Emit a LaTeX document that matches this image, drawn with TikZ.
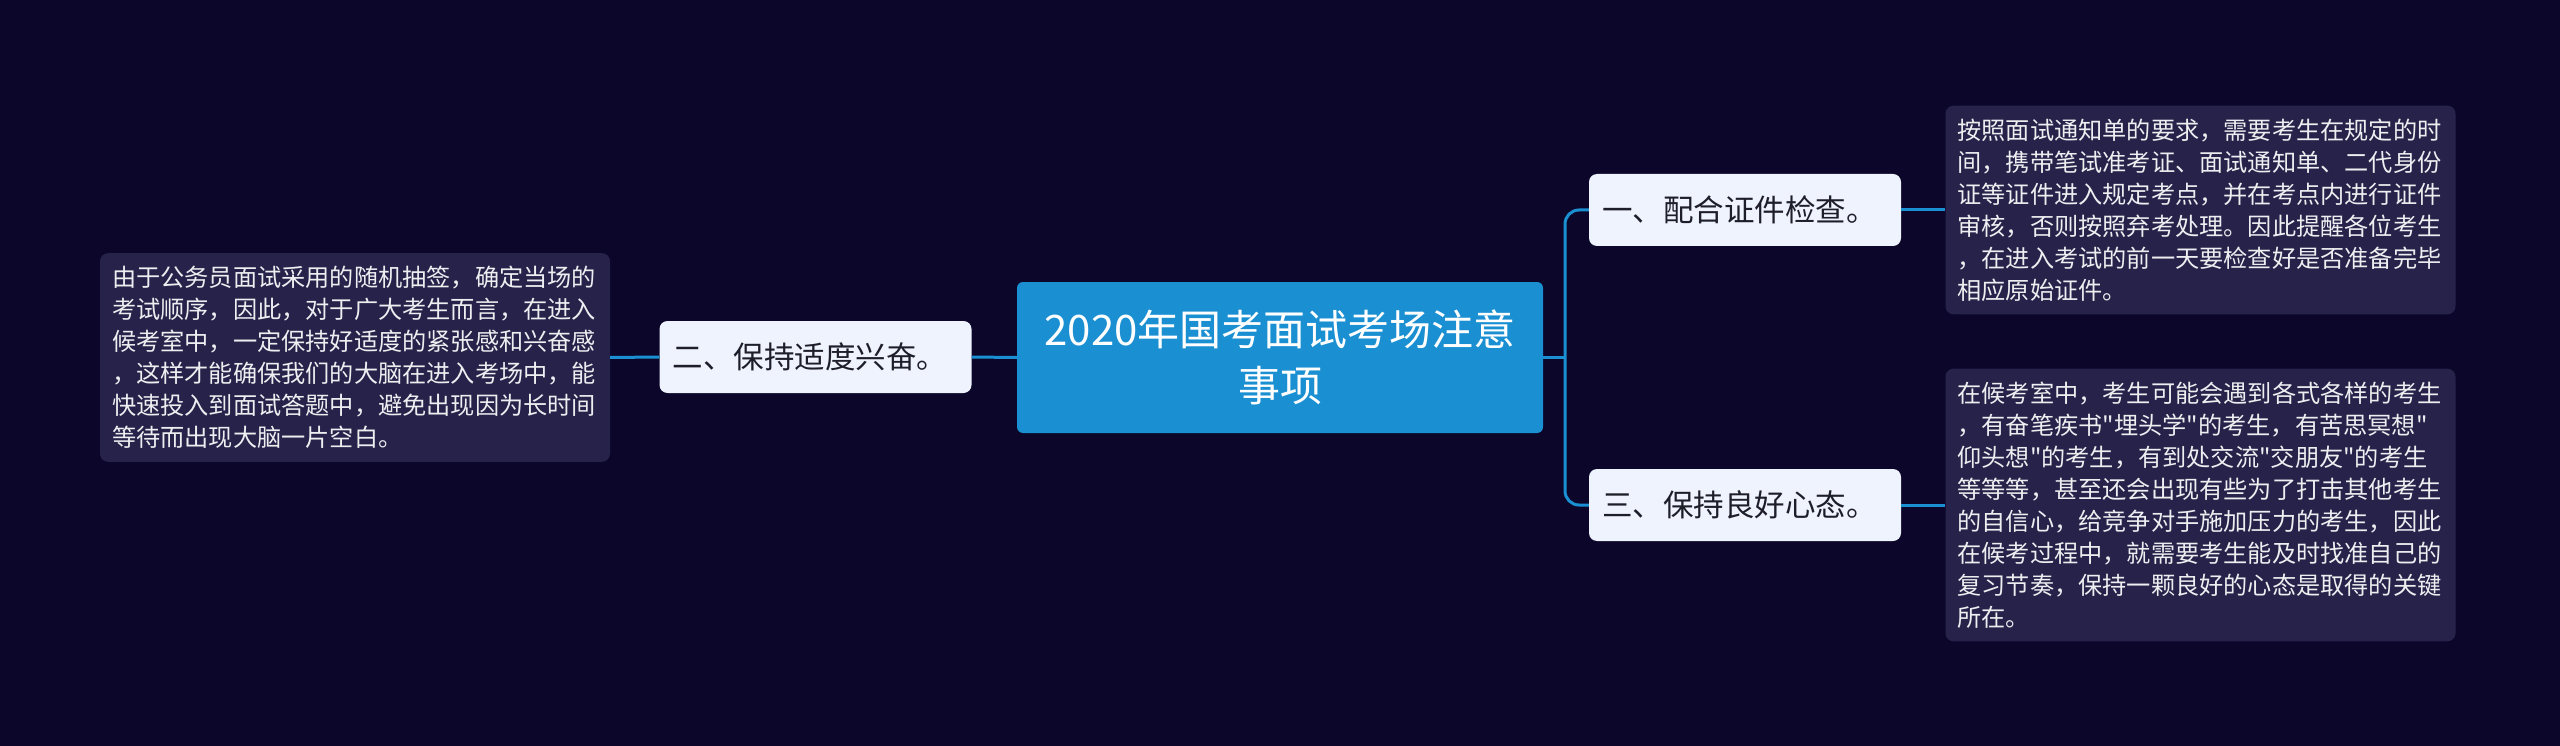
\documentclass[tikz,border=0pt]{standalone}
\usepackage{fontspec}
\setmainfont{Noto Sans CJK SC}[Ligatures=TeXOff]
\usetikzlibrary{positioning}
\definecolor{NightBg}{RGB}{11,6,42}
\definecolor{TopicBlue}{RGB}{26,143,210}
\definecolor{NotePurple}{RGB}{38,34,74}
\definecolor{SubWhite}{RGB}{238,243,253}
\definecolor{SubText}{RGB}{30,30,40}

\begin{document}
\begin{tikzpicture}[x=1pt, y=-1pt,
  topicbox/.style={rectangle, rounded corners=6pt, fill=TopicBlue, text=white, align=center,
    minimum width=526pt, minimum height=151pt, font=\fontsize{42}{56}\selectfont},
  subbox/.style={rectangle, rounded corners=8pt, fill=SubWhite, text=SubText, text width=286pt,
    align=left, inner xsep=13pt, minimum height=72pt, font=\fontsize{30.5}{34}\selectfont},
  notebox/.style={rectangle, rounded corners=8pt, fill=NotePurple, text=white!92!NotePurple,
    text width=486pt, align=left, inner xsep=12pt, inner ysep=13pt, font=\fontsize{24.2}{32}\selectfont},
  link/.style={TopicBlue, line width=3pt}]
  % Background
  \fill[NightBg] (0,0) rectangle (2560,746);

  % Main topic
  \node[topicbox] (topic) at (1280,357.5) {2020年国考面试考场注意\\事项};

  % Sub topics
  \node[subbox] (sub1) at (1745,210) {一、配合证件检查。};
  \node[subbox] (sub2) at (815.5,357) {二、保持适度兴奋。};
  \node[subbox] (sub3) at (1745,505) {三、保持良好心态。};

  % Notes
  \node[notebox] (note1) at (2200.5,210) {按照面试通知单的要求，需要考生在规定的时\\间，携带笔试准考证、面试通知单、二代身份\\证等证件进入规定考点，并在考点内进行证件\\审核，否则按照弃考处理。因此提醒各位考生\\，在进入考试的前一天要检查好是否准备完毕\\相应原始证件。};
  \node[notebox] (note2) at (355,357.5) {由于公务员面试采用的随机抽签，确定当场的\\考试顺序，因此，对于广大考生而言，在进入\\候考室中，一定保持好适度的紧张感和兴奋感\\，这样才能确保我们的大脑在进入考场中，能\\快速投入到面试答题中，避免出现因为长时间\\等待而出现大脑一片空白。};
  \node[notebox] (note3) at (2200.5,505) {在候考室中，考生可能会遇到各式各样的考生\\，有奋笔疾书"埋头学"的考生，有苦思冥想"\\仰头想"的考生，有到处交流"交朋友"的考生\\等等等，甚至还会出现有些为了打击其他考生\\的自信心，给竞争对手施加压力的考生，因此\\在候考过程中，就需要考生能及时找准自己的\\复习节奏，保持一颗良好的心态是取得的关键\\所在。};

  % Links
  \coordinate (split) at (1565,357.5);
  \draw[link] (topic.east) -- (split);
  \draw[link, rounded corners=14pt] (sub1.west) -| (split) |- (sub3.west);
  \draw[link] (topic.west) -- (sub2.east);
  \draw[link] (sub2.west) -- (note2.east);
  \draw[link] (sub1.east) -- (note1.west);
  \draw[link] (sub3.east) -- (note3.west);
\end{tikzpicture}
\end{document}
